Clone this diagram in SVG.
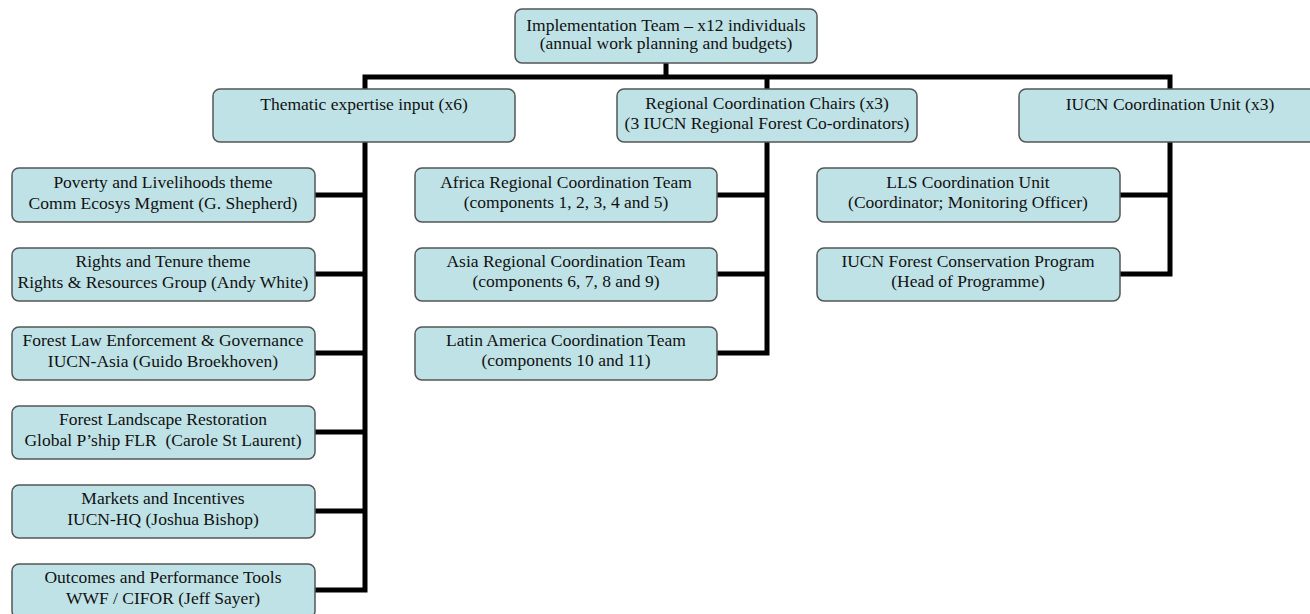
<svg xmlns="http://www.w3.org/2000/svg" width="1310" height="614" viewBox="0 0 1310 614">
<style>
.box{fill:#bfe2e6;stroke:#555;stroke-width:1.5}
.t{font-family:"Liberation Serif","Times New Roman",serif;font-size:17.5px;fill:#111;text-anchor:middle}
.c{stroke:#000;stroke-width:5;fill:none;stroke-linejoin:miter;stroke-linecap:square}
</style>
<rect width="1310" height="614" fill="#fff"/>
<g id="connectors">
<path class="c" d="M666 63 V77 M365 77 H1170 M767 77 V89 M365 77 V89 M1170 77 V89"/>
<path class="c" d="M365 142 V590 M315 195 H365 M315 274 H365 M315 353 H365 M315 432 H365 M315 511 H365 M315 590 H365"/>
<path class="c" d="M767 142 V353 M717 195 H767 M717 274 H767 M717 353 H767"/>
<path class="c" d="M1170 142 V274 M1120 195 H1170 M1120 274 H1170"/>
</g>
<g id="top"><rect class="box" x="515" y="9" width="302" height="54" rx="7"/><text class="t" x="666" y="31">Implementation Team – x12 individuals</text><text class="t" x="666" y="49">(annual work planning and budgets)</text></g>
<g id="thematic"><rect class="box" x="213" y="89" width="302" height="53" rx="7"/><text class="t" x="364" y="110">Thematic expertise input (x6)</text></g>
<g id="regional"><rect class="box" x="617" y="89" width="300" height="53" rx="7"/><text class="t" x="767" y="109">Regional Coordination Chairs (x3)</text><text class="t" x="767" y="129">(3 IUCN Regional Forest Co-ordinators)</text></g>
<g id="iucn"><rect class="box" x="1019" y="89" width="302" height="53" rx="7"/><text class="t" x="1170" y="110">IUCN Coordination Unit (x3)</text></g>
<g id="t1"><rect class="box" x="12" y="168" width="303" height="54" rx="7"/><text class="t" x="163" y="188">Poverty and Livelihoods theme</text><text class="t" x="163" y="209">Comm Ecosys Mgment (G. Shepherd)</text></g>
<g id="t2"><rect class="box" x="12" y="248" width="303" height="53" rx="7"/><text class="t" x="163" y="267">Rights and Tenure theme</text><text class="t" x="163" y="288">Rights &amp; Resources Group (Andy White)</text></g>
<g id="t3"><rect class="box" x="12" y="327" width="303" height="53" rx="7"/><text class="t" x="163" y="346">Forest Law Enforcement &amp; Governance</text><text class="t" x="163" y="367">IUCN-Asia (Guido Broekhoven)</text></g>
<g id="t4"><rect class="box" x="12" y="406" width="303" height="53" rx="7"/><text class="t" x="163" y="425">Forest Landscape Restoration</text><text class="t" x="163" y="446" xml:space="preserve">Global P’ship FLR  (Carole St Laurent)</text></g>
<g id="t5"><rect class="box" x="12" y="485" width="303" height="53" rx="7"/><text class="t" x="163" y="504">Markets and Incentives</text><text class="t" x="163" y="525">IUCN-HQ (Joshua Bishop)</text></g>
<g id="t6"><rect class="box" x="12" y="564" width="303" height="54" rx="7"/><text class="t" x="163" y="583">Outcomes and Performance Tools</text><text class="t" x="163" y="604">WWF / CIFOR (Jeff Sayer)</text></g>
<g id="r1"><rect class="box" x="415" y="168" width="302" height="54" rx="7"/><text class="t" x="566" y="188">Africa Regional Coordination Team</text><text class="t" x="566" y="208">(components 1, 2, 3, 4 and 5)</text></g>
<g id="r2"><rect class="box" x="415" y="248" width="302" height="53" rx="7"/><text class="t" x="566" y="267">Asia Regional Coordination Team</text><text class="t" x="566" y="287">(components 6, 7, 8 and 9)</text></g>
<g id="r3"><rect class="box" x="415" y="327" width="302" height="53" rx="7"/><text class="t" x="566" y="346">Latin America Coordination Team</text><text class="t" x="566" y="366">(components 10 and 11)</text></g>
<g id="i1"><rect class="box" x="817" y="168" width="303" height="54" rx="7"/><text class="t" x="968" y="188">LLS Coordination Unit</text><text class="t" x="968" y="208">(Coordinator; Monitoring Officer)</text></g>
<g id="i2"><rect class="box" x="817" y="248" width="303" height="53" rx="7"/><text class="t" x="968" y="267">IUCN Forest Conservation Program</text><text class="t" x="968" y="287">(Head of Programme)</text></g>
</svg>
